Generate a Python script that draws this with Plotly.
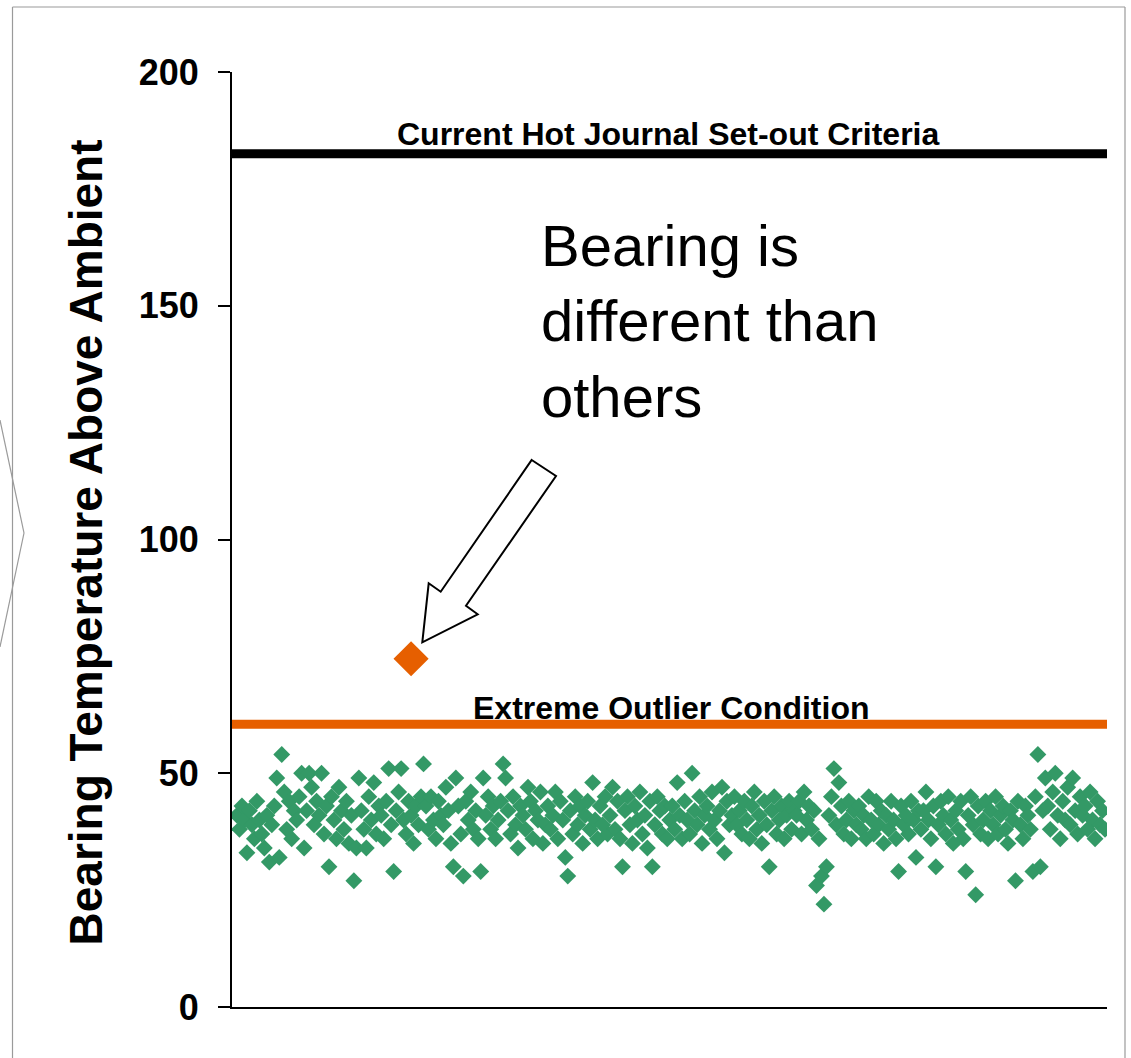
import plotly.graph_objects as go

# ---------------- data ----------------
temps_above_ambient = [
    41, 38, 43, 40, 33, 42, 39, 36, 44, 40, 37, 34, 41, 31, 39, 43, 49, 32, 54, 46, 38, 44, 36, 42, 40,
    45, 50, 34, 42, 50, 47, 39, 44, 41, 50, 37, 43, 30, 45, 40, 36, 47, 42, 38, 44, 35, 41, 27, 34, 49,
    42, 38, 34, 45, 40, 48, 37, 43, 41, 36, 44, 51, 39, 29, 42, 46, 51, 40, 37, 44, 41, 35, 43, 39, 45,
    52, 43, 38, 45, 40, 36, 44, 41, 39, 47, 42, 35, 30, 49, 43, 37, 28, 44, 40, 46, 38, 42, 36, 29, 49,
    41, 45, 38, 43, 36, 40, 44, 52, 49, 42, 37, 45, 39, 34, 43, 41, 38, 47, 44, 36, 42, 40, 46, 35, 39,
    43, 38, 41, 46, 36, 44, 40, 32, 28, 42, 37, 45, 39, 43, 35, 41, 44, 38, 48, 40, 36, 43, 39, 45, 37,
    41, 47, 38, 44, 36, 30, 42, 45, 39, 35, 43, 40, 46, 37, 41, 34, 44, 30, 39, 45, 42, 37, 43, 36, 40,
    43, 38, 48, 41, 36, 44, 40, 37, 50, 42, 39, 45, 35, 41, 43, 38, 46, 40, 36, 42, 47, 33, 44, 39, 41,
    45, 39, 42, 37, 44, 40, 36, 43, 46, 38, 41, 35, 44, 39, 30, 42, 45, 37, 40, 43, 36, 41, 44, 38, 42,
    41, 44, 37, 46, 40, 43, 38, 42, 26, 36, 28, 22, 30, 41, 45, 51, 39, 48, 43, 37, 40, 44, 36, 42, 39,
    43, 38, 41, 36, 45, 40, 37, 44, 39, 42, 35, 41, 38, 44, 40, 36, 29, 43, 39, 41, 37, 44, 40, 32, 42,
    38, 42, 46, 40, 36, 43, 30, 39, 44, 41, 37, 45, 40, 35, 42, 38, 44, 36, 29, 41, 45, 39, 24, 43, 37,
    40, 44, 36, 42, 39, 45, 37, 41, 43, 38, 35, 42, 40, 27, 44, 39, 36, 43, 41, 38, 29, 45, 54, 30, 42,
    49, 43, 38, 46, 50, 41, 36, 44, 40, 47, 39, 49, 42, 37, 45, 41, 43, 38, 46, 40, 36, 44, 39, 42, 38,
]
bearing_index = list(range(len(temps_above_ambient)))

outlier_index = [70]
outlier_temp = [74.5]

setout_criteria = 182.5
extreme_outlier_limit = 60.5

y_tick_values = [0, 50, 100, 150, 200]
y_tick_labels = ["0", "50", "100", "150", "200"]

y_title = "Bearing Temperature Above Ambient"
criteria_label = "Current Hot Journal Set-out Criteria"
outlier_label = "Extreme Outlier Condition"
callout_lines = ["Bearing is", "different than", "others"]

# ---------------- layout geometry ----------------
W, H = 1131, 1058
L, R, T, B = 232, 24, 72, 51
PW = W - L - R
PH = H - T - B


def px(x):
    return (x - L) / PW


def py(y):
    return (H - B - y) / PH


GREEN = "#339966"
ORANGE = "#E65F00"
FONT = "Liberation Sans, Arial, sans-serif"

fig = go.Figure()

fig.add_trace(go.Scatter(
    x=bearing_index, y=temps_above_ambient, mode="markers",
    marker=dict(symbol="diamond", size=13, color=GREEN, line=dict(width=0)),
    showlegend=False, hoverinfo="skip",
))
fig.add_trace(go.Scatter(
    x=outlier_index, y=outlier_temp, mode="markers",
    marker=dict(symbol="diamond", size=27, color=ORANGE, line=dict(width=0)),
    showlegend=False, hoverinfo="skip",
))

shapes = [
    dict(type="line", xref="x domain", yref="y", x0=0, x1=1,
         y0=setout_criteria, y1=setout_criteria, line=dict(color="black", width=9), layer="below"),
    dict(type="line", xref="x domain", yref="y", x0=0, x1=1,
         y0=extreme_outlier_limit, y1=extreme_outlier_limit, line=dict(color=ORANGE, width=9), layer="below"),
]

# block arrow pointing at the outlier
arrow_pts = [(531.7, 460), (556, 476), (466, 605.7), (477.7, 614.3),
             (422.3, 642.3), (428.7, 583.3), (440.7, 591.7)]
path = "M " + " L ".join(f"{px(a):.5f},{py(b):.5f}" for a, b in arrow_pts) + " Z"
shapes.append(dict(type="path", xref="paper", yref="paper", path=path,
                   fillcolor="white", line=dict(color="black", width=2)))

# decorative frame lines
GRAY = "#9a9a9a"
frame = [((12.5, 7), (1125, 7)), ((12.5, 7), (12.5, 1058)), ((1125, 7), (1125, 1058)),
         ((0, 420), (24, 533)), ((24, 533), (0, 647))]
for (x0, y0), (x1, y1) in frame:
    shapes.append(dict(type="line", xref="paper", yref="paper",
                       x0=px(x0), y0=py(y0), x1=px(x1), y1=py(y1),
                       line=dict(color=GRAY, width=1.2)))

annotations = [
    dict(xref="paper", yref="paper", x=px(85), y=py(542.5), text=y_title, textangle=-90,
         showarrow=False, xanchor="center", yanchor="middle",
         font=dict(family=FONT, size=46, color="black", weight="bold")),
    dict(xref="paper", yref="paper", x=px(667.5), y=py(134), text=criteria_label,
         showarrow=False, xanchor="center", yanchor="middle",
         font=dict(family=FONT, size=32, color="black", weight="bold")),
    dict(xref="paper", yref="paper", x=px(670.5), y=py(708), text=outlier_label,
         showarrow=False, xanchor="center", yanchor="middle",
         font=dict(family=FONT, size=32, color="black", weight="bold")),
    dict(xref="paper", yref="paper", x=px(539), y=py(321), text="<br>".join(callout_lines),
         showarrow=False, xanchor="left", yanchor="middle", align="left",
         font=dict(family=FONT, size=58, color="black")),
]

fig.update_layout(
    width=W, height=H,
    margin=dict(l=L, r=R, t=T, b=B, pad=0),
    paper_bgcolor="white", plot_bgcolor="white",
    showlegend=False,
    shapes=shapes, annotations=annotations,
    xaxis=dict(range=[-2, 349.8], showline=True, linecolor="black", linewidth=2,
               showgrid=False, zeroline=False, showticklabels=False, ticks=""),
    yaxis=dict(range=[0, 200], showline=True, linecolor="black", linewidth=2,
               showgrid=False, zeroline=False, tickvals=y_tick_values, ticktext=y_tick_labels,
               ticks="outside", ticklen=12, tickwidth=2, tickcolor="black",
               ticklabelstandoff=12,
               tickfont=dict(family=FONT, size=36, color="black", weight="bold")),
)

fig.write_html(
    "out.html",
    config={"displayModeBar": False},
    post_script="document.body.style.margin='0';document.body.style.overflow='hidden';",
)
